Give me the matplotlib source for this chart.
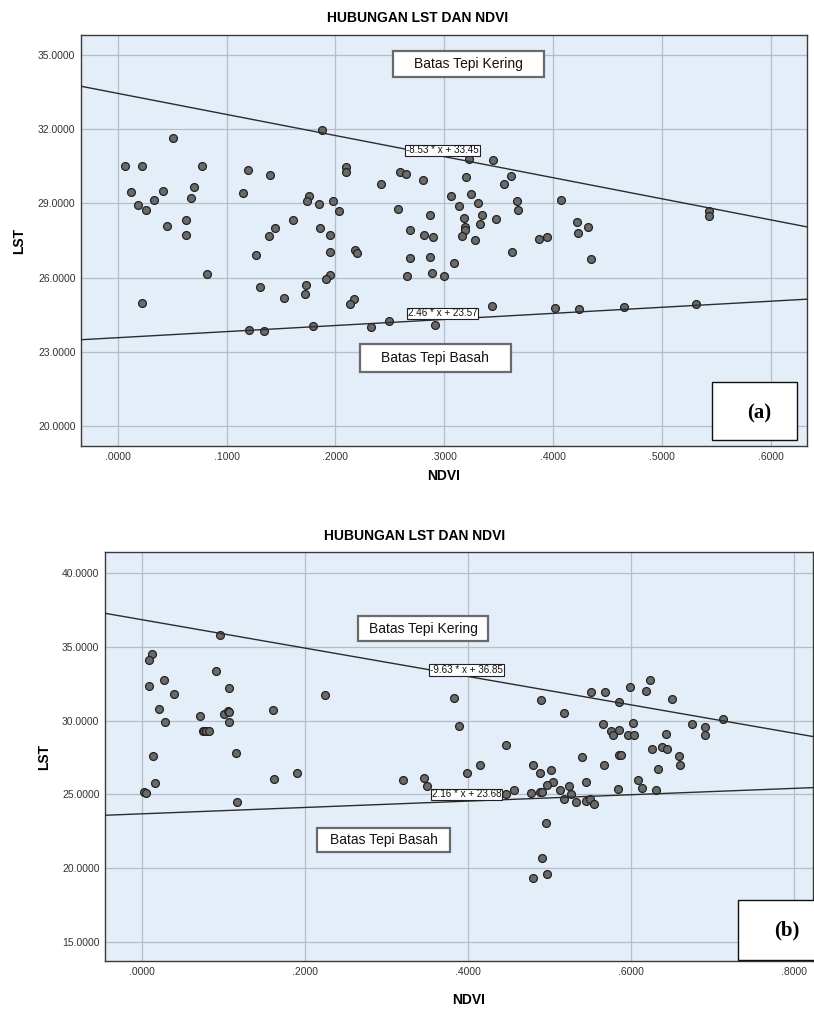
import matplotlib

matplotlib.use("Agg")

import matplotlib.pyplot as plt
import numpy as np
from matplotlib.patches import Rectangle

plt.rcParams["font.family"] = ["Liberation Sans", "DejaVu Sans"]

# --- data ---
ndvi_a = [
    0.007, 0.022, 0.051, 0.077, 0.012, 0.019, 0.026, 0.033, 0.042, 0.070,
    0.067, 0.045, 0.063, 0.063, 0.115, 0.120, 0.140, 0.188, 0.210, 0.210,
    0.176, 0.174, 0.185, 0.198, 0.203, 0.161, 0.144, 0.139, 0.186, 0.195,
    0.242, 0.259, 0.265, 0.257, 0.280, 0.287, 0.268, 0.281, 0.290, 0.323,
    0.345, 0.320, 0.361, 0.355, 0.306, 0.324, 0.331, 0.313, 0.367, 0.368,
    0.407, 0.335, 0.318, 0.333, 0.347, 0.319, 0.319, 0.316, 0.328, 0.387,
    0.394, 0.422, 0.423, 0.432, 0.543, 0.543, 0.082, 0.022, 0.127, 0.131,
    0.153, 0.172, 0.173, 0.195, 0.218, 0.220, 0.195, 0.191, 0.217, 0.213,
    0.121, 0.134, 0.179, 0.233, 0.249, 0.268, 0.266, 0.287, 0.289, 0.291,
    0.309, 0.300, 0.362, 0.435, 0.344, 0.402, 0.424, 0.465, 0.531,
]
lst_a = [
    30.50, 30.50, 31.64, 30.50, 29.46, 28.93, 28.73, 29.15, 29.49, 29.67,
    29.20, 28.10, 28.32, 27.72, 29.43, 30.35, 30.14, 31.98, 30.47, 30.28,
    29.31, 29.10, 28.96, 29.08, 28.70, 28.32, 28.00, 27.67, 28.00, 27.71,
    29.77, 30.27, 30.19, 28.76, 29.96, 28.54, 27.91, 27.71, 27.63, 30.79,
    30.77, 30.07, 30.12, 29.80, 29.30, 29.39, 29.02, 28.88, 29.10, 28.73,
    29.14, 28.52, 28.40, 28.17, 28.38, 28.03, 27.92, 27.69, 27.53, 27.56,
    27.65, 28.25, 27.80, 28.03, 28.69, 28.50, 26.16, 24.97, 26.92, 25.61,
    25.16, 25.32, 25.72, 27.03, 27.10, 26.99, 26.10, 25.94, 25.13, 24.92,
    23.89, 23.83, 24.03, 24.01, 24.24, 26.80, 26.08, 26.82, 26.20, 24.07,
    26.59, 26.08, 27.03, 26.75, 24.85, 24.77, 24.73, 24.80, 24.94,
]

ndvi_b = [
    0.095, 0.012, 0.008, 0.008, 0.026, 0.039, 0.091, 0.106, 0.021, 0.028,
    0.071, 0.100, 0.105, 0.106, 0.106, 0.074, 0.076, 0.078, 0.082, 0.160,
    0.224, 0.013, 0.115, 0.016, 0.002, 0.005, 0.116, 0.162, 0.190, 0.320,
    0.382, 0.389, 0.446, 0.489, 0.517, 0.551, 0.568, 0.598, 0.623, 0.618,
    0.585, 0.650, 0.713, 0.675, 0.690, 0.691, 0.565, 0.602, 0.575, 0.577,
    0.585, 0.596, 0.603, 0.642, 0.626, 0.638, 0.644, 0.658, 0.585, 0.587,
    0.539, 0.346, 0.349, 0.398, 0.414, 0.446, 0.456, 0.477, 0.488, 0.491,
    0.479, 0.488, 0.502, 0.504, 0.497, 0.513, 0.517, 0.524, 0.526, 0.532,
    0.544, 0.544, 0.549, 0.554, 0.567, 0.584, 0.608, 0.613, 0.633, 0.630,
    0.660, 0.495, 0.491, 0.480, 0.497,
]
lst_b = [
    35.83, 34.55, 34.10, 32.35, 32.76, 31.83, 33.35, 32.20, 30.81, 29.89,
    30.32, 30.43, 30.64, 30.58, 29.89, 29.30, 29.30, 29.33, 29.30, 30.75,
    31.72, 27.63, 27.79, 25.75, 25.16, 25.12, 24.48, 26.02, 26.43, 25.96,
    31.56, 29.64, 28.33, 31.38, 30.54, 31.97, 31.97, 32.29, 32.78, 31.99,
    31.29, 31.45, 30.14, 29.80, 29.57, 29.05, 29.78, 29.82, 29.32, 29.01,
    29.35, 29.00, 29.01, 29.08, 28.10, 28.19, 28.08, 27.60, 27.67, 27.69,
    27.52, 26.09, 25.57, 26.45, 26.97, 25.00, 25.30, 25.12, 25.18, 25.18,
    27.00, 26.48, 26.64, 25.84, 25.62, 25.30, 24.71, 25.57, 25.03, 24.46,
    25.86, 24.55, 24.69, 24.37, 26.99, 25.37, 25.98, 25.46, 26.70, 25.30,
    26.99, 23.04, 20.68, 19.33, 19.62,
]

# edge lines: (slope, intercept)
dry_a, wet_a = (-8.53, 33.45), (2.46, 23.57)
dry_b, wet_b = (-9.63, 36.85), (2.16, 23.68)

xticks_a = [0.0, 0.1, 0.2, 0.3, 0.4, 0.5, 0.6]
xlabels_a = [".0000", ".1000", ".2000", ".3000", ".4000", ".5000", ".6000"]
yticks_a = [20, 23, 26, 29, 32, 35]
ylabels_a = ["20.0000", "23.0000", "26.0000", "29.0000", "32.0000", "35.0000"]

xticks_b = [0.0, 0.2, 0.4, 0.6, 0.8]
xlabels_b = [".0000", ".2000", ".4000", ".6000", ".8000"]
yticks_b = [15, 20, 25, 30, 35, 40]
ylabels_b = ["15.0000", "20.0000", "25.0000", "30.0000", "35.0000", "40.0000"]

TITLE = "HUBUNGAN LST DAN NDVI"
BG = "#E3EEF9"
GRID = "#B4BEC8"


def eq_text(m, c):
    return f"{m:.2f} * x + {c:.2f}"


def draw_panel(ax, x, y, dry, wet, xlim, ylim, xt, xl, yt, yl, cfg):
    ax.set_facecolor(BG)
    ax.set_xlim(*xlim)
    ax.set_ylim(*ylim)
    ax.set_xticks(xt, xl)
    ax.set_yticks(yt, yl)
    ax.tick_params(length=0, labelsize=7.5, labelcolor="#333333", pad=4)
    ax.grid(True, color=GRID, lw=0.9, zorder=0)
    ax.set_axisbelow(True)
    for sp in ax.spines.values():
        sp.set_color("#3a3a3a")
        sp.set_linewidth(1.0)

    ax.scatter(x, y, s=32, c="#6a6a6a", edgecolors="#222222",
               linewidths=0.9, zorder=3)

    xs = np.array(xlim)
    for m, c in (dry, wet):
        ax.plot(xs, m * xs + c, color="#2b2b2b", lw=1.0, zorder=4)

    # equation tags
    for (m, c), (fx, fy) in ((dry, cfg["eq_dry"]), (wet, cfg["eq_wet"])):
        ax.text(fx, fy, eq_text(m, c), transform=ax.transAxes, ha="left",
                va="center", fontsize=7.1, color="#111111", zorder=6,
                bbox=dict(boxstyle="square,pad=0.1", fc="white",
                          ec="#222222", lw=0.8))

    # "Batas Tepi" boxes
    for key, label in (("kering", "Batas Tepi Kering"), ("basah", "Batas Tepi Basah")):
        bx, by, bw, bh = cfg[key]
        ax.add_patch(Rectangle((bx, by), bw, bh, transform=ax.transAxes,
                               fc="white", ec="#6a6a6a", lw=1.6, zorder=5))
        ax.text(bx + bw / 2, by + bh / 2, label, transform=ax.transAxes,
                ha="center", va="center", fontsize=10, color="#111111",
                zorder=6)

    # panel tag (a)/(b)
    bx, by, bw, bh = cfg["tag_box"]
    ax.add_patch(Rectangle((bx, by), bw, bh, transform=ax.transAxes,
                           fc="white", ec="#111111", lw=1.0, zorder=5,
                           clip_on=False))
    tx, ty = cfg["tag_xy"]
    ax.text(tx, ty, cfg["tag"], transform=ax.transAxes, ha="center",
            va="center", fontsize=15, fontweight="bold",
            family=["Liberation Serif", "DejaVu Serif"], zorder=6)

    ax.set_xlabel("NDVI", fontsize=10, fontweight="bold")
    ax.set_ylabel("LST", fontsize=10, fontweight="bold")
    ax.xaxis.set_label_coords(*cfg["xlab"])
    ax.yaxis.set_label_coords(*cfg["ylab"])


fig = plt.figure(figsize=(8.14, 10.11), dpi=100)

ax_a = fig.add_axes([81 / 814, 1 - 446 / 1011, 726 / 814, 411 / 1011])
ax_b = fig.add_axes([105 / 814, 1 - 961 / 1011, 708 / 814, 409 / 1011])

draw_panel(
    ax_a, ndvi_a, lst_a, dry_a, wet_a, (-0.0337, 0.633), (19.19, 35.81),
    xticks_a, xlabels_a, yticks_a, ylabels_a,
    dict(eq_dry=(0.448, 0.719), eq_wet=(0.450, 0.3224),
         kering=(0.4293, 0.8985, 0.2084, 0.0633),
         basah=(0.3843, 0.1793, 0.2076, 0.0689),
         tag_box=(0.8691, 0.0139, 0.1167, 0.1426), tag_xy=(0.9339, 0.0796),
         tag="(a)", xlab=(0.5, -0.056), ylab=(-0.076, 0.5)),
)
draw_panel(
    ax_b, ndvi_b, lst_b, dry_b, wet_b, (-0.0458, 0.823), (13.69, 41.45),
    xticks_b, xlabels_b, yticks_b, ylabels_b,
    dict(eq_dry=(0.459, 0.711), eq_wet=(0.4615, 0.4071),
         kering=(0.3569, 0.7817, 0.1845, 0.0619),
         basah=(0.299, 0.2665, 0.1887, 0.0594),
         tag_box=(0.8945, 0.0032, 0.14, 0.1452), tag_xy=(0.9637, 0.0741),
         tag="(b)", xlab=(0.513, -0.078), ylab=(-0.076, 0.5)),
)

fig.text(418 / 814, 1 - 18 / 1011, TITLE, ha="center", va="center",
         fontsize=10, fontweight="bold")
fig.text(415 / 814, 1 - 536 / 1011, TITLE, ha="center", va="center",
         fontsize=10, fontweight="bold")

fig.savefig("out.png", dpi=100, facecolor="white")
plt.close(fig)
